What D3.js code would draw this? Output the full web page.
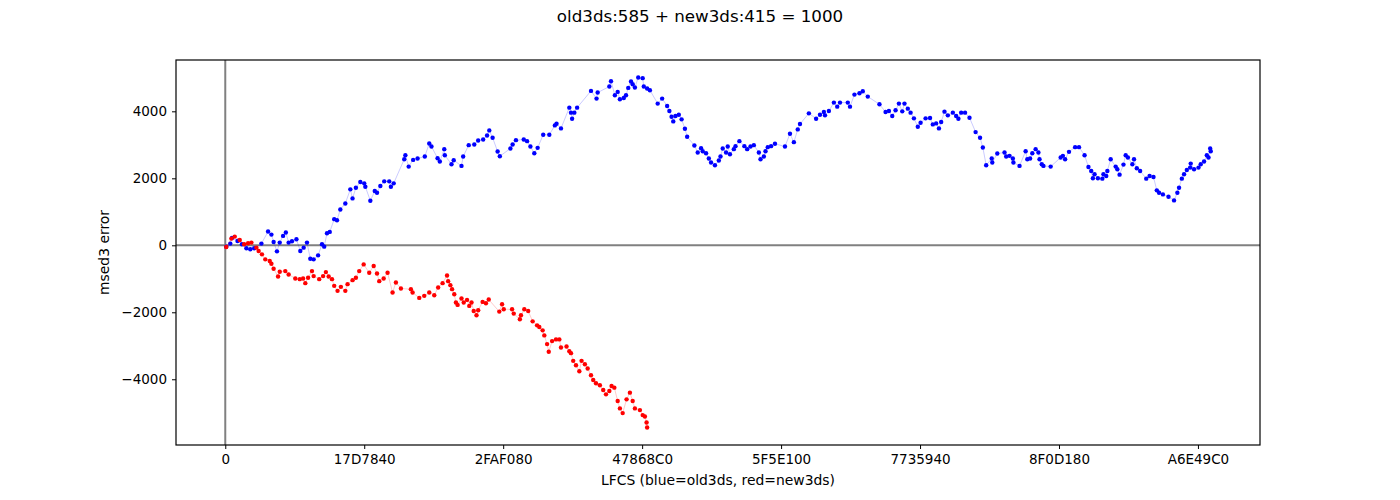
<!DOCTYPE html>
<html>
<head>
<meta charset="utf-8">
<script src="https://cdn.jsdelivr.net/npm/d3@7"></script>
<style>
  body { margin: 0; background: #fff; }
  svg { display: block; font-family: "DejaVu Sans", sans-serif; }
</style>
</head>
<body>
<svg></svg>
<script>
const width = 1400;
const height = 500;

// titre et axes
const titleText = "old3ds:585 + new3ds:415 = 1000";
const xLabel = "LFCS (blue=old3ds, red=new3ds)";
const yLabel = "msed3 error";

// ticks x (en millions, LFCS) et leurs labels hexa
const xTickValues = [0, 25, 50, 75, 100, 125, 150, 175];
const xTickLabels = ["0", "17D7840", "2FAF080", "47868C0", "5F5E100", "7735940", "8F0D180", "A6E49C0"];
const yTickValues = [-4000, -2000, 0, 2000, 4000];

// old3ds : [LFCS en millions, erreur]
const old3ds = [
  [0.18,-40],[0.9,50],[1.2,220],[2.2,130],[3.0,30],[3.8,-90],[4.5,-120],[5.2,-90],[6.5,50],[7.7,410],
  [8.3,320],[8.7,100],[9.3,-180],[9.8,80],[10.4,280],[10.9,380],[11.4,80],[12.0,120],[12.8,180],[13.5,-170],
  [14.1,-70],[14.7,80],[15.3,-400],[15.9,-420],[16.7,-300],[17.4,30],[17.8,-40],[18.3,360],[18.8,400],[19.6,780],
  [20.1,750],[20.7,1070],[21.6,1250],[22.5,1670],[22.9,1400],[23.5,1720],[24.3,1890],[25.0,1850],[25.2,1750],[26.1,1330],
  [26.9,1620],[27.3,1570],[27.9,1770],[28.6,1910],[29.5,1910],[29.8,1750],[30.3,1850],[32.2,2570],[32.4,2690],[33.0,2350],
  [33.8,2550],[34.6,2590],[35.9,2650],[36.7,3040],[37.1,2950],[38.2,2600],[38.6,2500],[39.4,2870],[39.5,2690],[40.7,2420],
  [41.1,2540],[42.5,2370],[42.8,2650],[43.8,2990],[44.8,3010],[45.5,3130],[46.4,3160],[47.1,3280],[47.5,3430],[48.1,3210],
  [49.0,2800],[49.4,2660],[51.3,2890],[51.7,3010],[52.3,3140],[53.7,3160],[54.3,3110],[54.9,2950],[55.6,2750],[56.2,2910],
  [57.2,3300],[58.3,3300],[59.3,3580],[59.6,3630],[60.4,3490],[61.9,4110],[62.2,3960],[62.4,3780],[62.8,3960],[63.3,4110],
  [65.8,4610],[66.8,4380],[67.0,4560],[69.1,4740],[69.4,4900],[70.1,4480],[70.6,4580],[71.0,4360],[71.7,4400],[72.1,4480],
  [72.5,4700],[73.0,4890],[73.3,4810],[73.7,4710],[74.3,5010],[75.1,4990],[75.3,4740],[75.9,4680],[76.4,4630],[77.8,4230],
  [78.6,4380],[79.5,4160],[79.9,4010],[80.3,3840],[80.6,3700],[81.0,3860],[81.6,3900],[82.1,3760],[82.7,3480],[83.1,3240],
  [84.4,2980],[85.0,2770],[85.6,2900],[85.9,2810],[86.5,2750],[87.0,2590],[87.4,2470],[88.1,2390],[88.8,2530],[89.1,2650],
  [89.5,2890],[90.1,2770],[90.4,2950],[90.8,2720],[91.5,2870],[91.8,2960],[92.5,3110],[93.4,2960],[93.9,2870],[94.5,2950],
  [95.1,2990],[96.0,2770],[96.3,2570],[96.9,2650],[97.2,2810],[97.6,2930],[98.2,2960],[98.9,3030],[100.7,2950],[101.6,3330],
  [102.3,3080],[103.0,3460],[103.4,3620],[105.0,3940],[106.3,3780],[107.0,3900],[107.7,3980],[107.9,3880],[108.6,4010],[109.5,4260],
  [110.1,4140],[110.6,4260],[112.0,4260],[112.4,4140],[113.2,4500],[114.1,4540],[114.7,4600],[115.6,4440],[117.7,4210],[118.8,3980],
  [119.4,4010],[120.0,3860],[120.6,4030],[121.2,4230],[121.8,4000],[122.2,4230],[122.8,4080],[123.3,3960],[123.9,3790],[124.6,3540],
  [125.1,3660],[126.0,3790],[126.8,3800],[127.3,3610],[127.9,3640],[128.4,3490],[128.8,3680],[129.4,3990],[130.0,3880],[130.9,3960],
  [131.5,3860],[131.9,3780],[132.4,3960],[133.1,3960],[133.9,3810],[135.0,3380],[135.8,3210],[136.3,2920],[136.9,2390],[137.9,2590],
  [138.0,2470],[138.9,2740],[140.2,2770],[140.5,2650],[141.1,2670],[141.7,2590],[141.8,2470],[142.9,2370],[144.0,2810],[144.3,2570],
  [144.8,2590],[145.2,2750],[145.8,2870],[146.3,2770],[146.5,2570],[146.9,2420],[147.2,2370],[148.5,2350],[150.3,2620],[150.7,2670],
  [151.1,2570],[151.8,2790],[152.9,2930],[153.6,2930],[154.6,2690],[155.3,2340],[155.8,2220],[156.1,2000],[156.4,2120],[157.0,2000],
  [157.8,1990],[158.0,2120],[158.5,2070],[158.7,2220],[159.3,2570],[160.2,2350],[160.5,2270],[160.9,2110],[161.6,2410],[162.0,2690],
  [162.4,2620],[163.2,2420],[163.5,2570],[164.0,2300],[164.6,2220],[165.7,1990],[166.3,2070],[167.0,2040],[167.6,1640],[168.0,1570],
  [168.7,1520],[169.7,1450],[170.7,1340],[171.3,1570],[171.6,1720],[172.1,1990],[172.5,2120],[173.0,2250],[173.6,2320],[173.7,2440],
  [174.3,2270],[175.1,2320],[175.5,2420],[176.1,2500],[176.6,2690],[176.9,2620],[177.2,2890],[177.3,2810]
];

// new3ds : [LFCS en millions, erreur]
const new3ds = [
  [0.18,-50],[1.1,200],[1.7,260],[2.6,160],[3.4,30],[4.1,60],[4.7,80],[5.6,-70],[6.0,-170],[6.6,-270],
  [7.2,-420],[8.0,-470],[8.3,-550],[8.7,-700],[9.5,-930],[9.8,-790],[10.8,-770],[11.4,-870],[12.6,-990],[13.4,-1010],
  [14.0,-990],[14.4,-1130],[14.9,-970],[15.6,-770],[15.9,-920],[16.9,-1010],[17.6,-920],[18.1,-800],[18.6,-930],[19.2,-1010],
  [19.6,-1210],[20.2,-1360],[20.8,-1240],[21.6,-1360],[22.0,-1160],[22.9,-1040],[23.5,-970],[24.1,-770],[24.9,-570],[25.9,-820],
  [26.7,-620],[27.3,-840],[27.7,-1070],[28.5,-990],[29.2,-820],[30.1,-1410],[30.7,-1110],[31.6,-1290],[33.4,-1310],[33.7,-1410],
  [34.9,-1570],[35.8,-1510],[36.7,-1410],[37.6,-1490],[38.3,-1260],[39.1,-1130],[39.9,-900],[40.1,-1070],[40.5,-1190],[40.8,-1310],
  [41.2,-1460],[41.5,-1710],[41.8,-1780],[42.5,-1590],[42.9,-1710],[43.5,-1630],[43.9,-1810],[44.3,-1710],[44.7,-1960],[45.2,-2090],
  [45.5,-1940],[46.3,-1690],[46.9,-1730],[47.4,-1620],[49.3,-1980],[49.8,-1760],[50.1,-1910],[51.6,-1910],[51.9,-2040],[53.0,-2210],
  [53.2,-2090],[53.8,-1910],[54.5,-1960],[55.3,-2270],[56.1,-2390],[56.5,-2440],[57.1,-2540],[57.4,-2690],[57.9,-2950],[58.2,-3180],
  [58.8,-2860],[59.5,-2810],[60.1,-2810],[60.4,-3050],[61.4,-3020],[61.9,-3160],[62.2,-3220],[62.6,-3450],[63.1,-3580],[63.7,-3760],
  [64.1,-3450],[64.7,-3550],[65.2,-3680],[65.8,-3880],[66.2,-4020],[66.7,-4120],[67.4,-4180],[68.0,-4320],[68.5,-4450],[69.1,-4350],
  [69.5,-4200],[70.0,-4250],[70.6,-4650],[71.0,-4870],[71.5,-5010],[72.2,-4600],[72.8,-4400],[73.3,-4650],[73.7,-4870],[74.6,-4920],
  [75.1,-5070],[75.5,-5110],[75.8,-5290],[75.9,-5440]
];

const margin = { top: 60, right: 140, bottom: 55, left: 176 };
const innerW = width - margin.left - margin.right;
const innerH = height - margin.top - margin.bottom;

const svg = d3.select("svg")
  .attr("width", width)
  .attr("height", height);

const g = svg.append("g")
  .attr("transform", `translate(${margin.left},${margin.top})`);

// domaines avec 5% de marge, comme matplotlib
const all = old3ds.concat(new3ds);
const xExt = [0, d3.max(all, d => d[0])];
const yExt = d3.extent(all, d => d[1]);
const xPad = (xExt[1] - xExt[0]) * 0.05;
const yPad = (yExt[1] - yExt[0]) * 0.05;

const x = d3.scaleLinear()
  .domain([xExt[0] - xPad, xExt[1] + xPad])
  .range([0, innerW]);

const y = d3.scaleLinear()
  .domain([yExt[0] - yPad, yExt[1] + yPad])
  .range([innerH, 0]);

// lignes grises x=0 et y=0
g.append("line")
  .attr("x1", 0).attr("x2", innerW)
  .attr("y1", y(0)).attr("y2", y(0))
  .attr("stroke", "#808080").attr("stroke-width", 2);
g.append("line")
  .attr("x1", x(0)).attr("x2", x(0))
  .attr("y1", 0).attr("y2", innerH)
  .attr("stroke", "#808080").attr("stroke-width", 2);

const line = d3.line()
  .x(d => x(d[0]))
  .y(d => y(d[1]));

function drawSeries(data, color) {
  g.append("path")
    .datum(data)
    .attr("fill", "none")
    .attr("stroke", color)
    .attr("stroke-opacity", 0.3)
    .attr("stroke-width", 0.7)
    .attr("d", line);

  g.append("g")
    .selectAll("circle")
    .data(data)
    .join("circle")
    .attr("cx", d => x(d[0]))
    .attr("cy", d => y(d[1]))
    .attr("r", 2.2)
    .attr("fill", color);
}

drawSeries(old3ds, "#0000ff");
drawSeries(new3ds, "#ff0000");

// cadre
g.append("rect")
  .attr("width", innerW)
  .attr("height", innerH)
  .attr("fill", "none")
  .attr("stroke", "#000")
  .attr("stroke-width", 1.2);

// axes
const xAxis = d3.axisBottom(x)
  .tickValues(xTickValues)
  .tickFormat((d, i) => xTickLabels[i])
  .tickSize(4)
  .tickPadding(5);

const yAxis = d3.axisLeft(y)
  .tickValues(yTickValues)
  .tickFormat(d => d < 0 ? "\u2212" + Math.abs(d) : String(d))
  .tickSize(4)
  .tickPadding(5);

const gx = g.append("g")
  .attr("transform", `translate(0,${innerH})`)
  .call(xAxis);
const gy = g.append("g").call(yAxis);

[gx, gy].forEach(a => {
  a.select(".domain").remove();
  a.selectAll("text")
    .attr("font-family", "DejaVu Sans, sans-serif")
    .attr("font-size", 13.5)
    .attr("fill", "#000");
  a.selectAll("line").attr("stroke", "#000");
});

// textes
svg.append("text")
  .attr("x", width / 2)
  .attr("y", 22)
  .attr("text-anchor", "middle")
  .attr("font-size", 16.7)
  .text(titleText);

svg.append("text")
  .attr("x", margin.left + innerW / 2)
  .attr("y", 485)
  .attr("text-anchor", "middle")
  .attr("font-size", 13.9)
  .text(xLabel);

svg.append("text")
  .attr("transform", `translate(109,${margin.top + innerH / 2}) rotate(-90)`)
  .attr("text-anchor", "middle")
  .attr("font-size", 13.9)
  .text(yLabel);
</script>
</body>
</html>
